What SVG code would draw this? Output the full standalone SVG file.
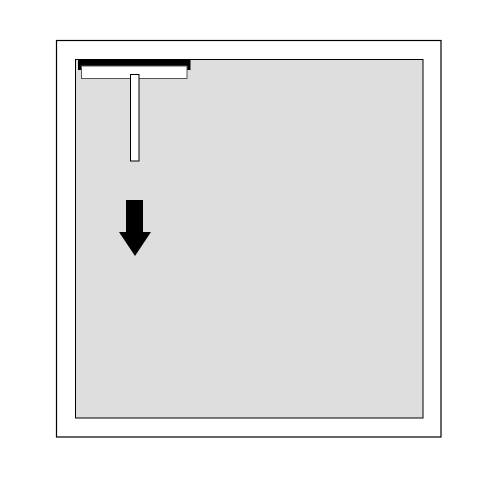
<svg xmlns="http://www.w3.org/2000/svg" width="500" height="484" viewBox="0 0 500 484">
<style>
.frame{fill:#fff;stroke:#000;stroke-width:1.2}
.panel{fill:#dedede;stroke:#000;stroke-width:1}
.white{fill:#fff;stroke:#555;stroke-width:1}
</style>
<rect width="500" height="484" fill="#fff"/>
<rect class="frame" x="56.5" y="40.5" width="384.5" height="396.5"/>
<rect class="panel" x="75.5" y="59.5" width="347.5" height="358.5"/>
<g id="squeegee">
<rect x="78" y="59" width="112.5" height="11" fill="#000"/>
<rect class="white" x="81.5" y="66" width="105.5" height="12.5"/>
<rect x="130.5" y="74.5" width="8.5" height="86.5" fill="#fff" stroke="#000" stroke-width="1"/>
</g>
<g id="arrow">
<polygon points="126,200 143,200 143,232 151,232 135,256 119,232 126,232" fill="#000"/>
</g>
</svg>
